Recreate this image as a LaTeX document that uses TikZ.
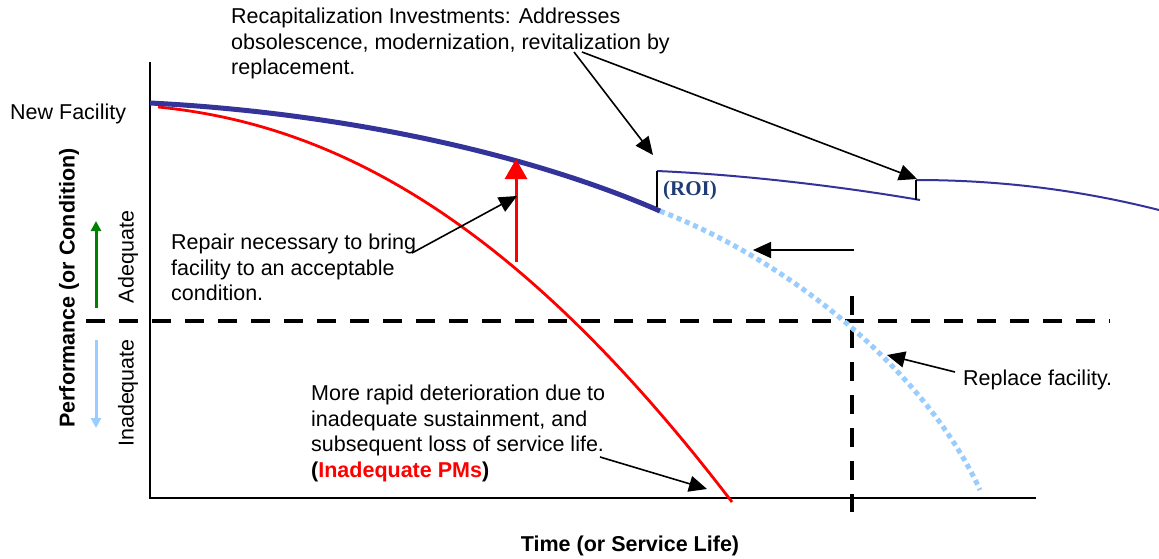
\documentclass[tikz,border=0pt]{standalone}
\usepackage{fontspec}
\setmainfont{Liberation Sans}
\newfontfamily\roifont{Liberation Serif}
\usetikzlibrary{arrows.meta}
\definecolor{dblue}{HTML}{333399}
\definecolor{lblue}{HTML}{99CCFF}
\definecolor{roiblue}{HTML}{1F3C74}
\definecolor{dgreen}{HTML}{008000}
\tikzset{
  txt/.style={inner sep=0pt, anchor=north west, align=left, font=\fontsize{21.5}{25.5}\selectfont},
  axis/.style={line width=2pt, black},
  thresh/.style={line width=3.5pt, black, dash pattern=on 19pt off 14pt},
  ptr/.style={line width=1.6pt, black, -{Triangle[length=18pt,width=16pt]}},
  tick/.style={line width=1.5pt, black},
}
\begin{document}
\begin{tikzpicture}[x=1pt,y=-1pt]
\useasboundingbox (0,0) rectangle (1159,558);
% axes
\coordinate (ytop) at (150,62);
\coordinate (origin) at (150,498);
\coordinate (xend) at (1036,498);
\draw[axis] (ytop) -- (origin) -- (xend);
% thresholds
\coordinate (hl) at (86,321);
\coordinate (hr) at (1110,321);
\draw[thresh] (hl) -- (hr);
\coordinate (vt) at (852,296);
\coordinate (vb) at (852,512);
\draw[thresh] (vt) -- (vb);
% curves
\coordinate (b0) at (150,103);
\coordinate (b1) at (660,211);
\coordinate (d1) at (980,490);
\draw[lblue, line width=5pt, dash pattern=on 5pt off 4pt] (b1) .. controls (800,265) and (930,380) .. (d1);
\coordinate (r0) at (158,107);
\coordinate (r1) at (732,502);
\draw[red, line width=2.8pt] (r0) .. controls (340,125) and (520,225) .. (r1);
\draw[dblue, line width=5pt] (b0) .. controls (330,112) and (520,150) .. (b1);
% repair arrow
\coordinate (ra) at (516,262);
\coordinate (rb) at (516,159);
\draw[red, line width=3pt, -{Triangle[length=20pt,width=22pt]}] (ra) -- (rb);
% replacement lines
\coordinate (n0) at (657,171);
\coordinate (n1) at (920,200);
\coordinate (m0) at (916,180);
\coordinate (m1) at (1159,210);
\coordinate (t0) at (657,207);
\coordinate (t1) at (916,200);
\draw[dblue, line width=2pt] (n0) .. controls (750,175) and (850,188) .. (n1);
\draw[dblue, line width=2pt] (m0) .. controls (1000,180) and (1080,190) .. (m1);
\draw[tick] (n0) -- (t0);
\draw[tick] (m0) -- (t1);
\node[inner sep=0pt, text=roiblue, font=\roifont\bfseries\fontsize{21}{24}\selectfont] (roi) at (690,190) {(ROI)};
% texts
\node[txt] (recap) at (231,8) {Recapitalization Investments: Addresses\\obsolescence, modernization, revitalization by\\replacement.};
\node[txt] (newf) at (10,104) {New Facility};
\node[txt] (repair) at (171,234) {Repair necessary to bring\\facility to an acceptable\\condition.};
\node[txt] (more) at (311,385) {More rapid deterioration due to\\inadequate sustainment, and\\subsequent loss of service life.\\\textbf{(\textcolor{red}{Inadequate PMs})}};
\node[txt] (replace) at (963,370) {Replace facility.};
\node[inner sep=0pt, font=\bfseries\fontsize{21.5}{25.5}\selectfont] (time) at (630,546) {Time (or Service Life)};
\node[inner sep=0pt, rotate=90, font=\bfseries\fontsize{21.5}{25.5}\selectfont] (perf) at (69,288) {Performance (or Condition)};
\node[inner sep=0pt, rotate=90, font=\fontsize{21.5}{25.5}\selectfont] (adeq) at (128,257) {Adequate};
\node[inner sep=0pt, rotate=90, font=\fontsize{21.5}{25.5}\selectfont] (inadeq) at (128,393) {Inadequate};
% up/down arrows
\coordinate (ga) at (96,308);
\coordinate (gb) at (96,221);
\draw[dgreen, line width=3pt, -{Triangle[length=10pt,width=10pt]}] (ga) -- (gb);
\coordinate (la) at (96,340);
\coordinate (lb) at (96,428);
\draw[lblue, line width=3pt, -{Triangle[length=10pt,width=10pt]}] (la) -- (lb);
% pointers
\coordinate (p1) at (574,52);
\coordinate (p1t) at (653,155);
\coordinate (p2) at (582,52);
\coordinate (p2t) at (917,179);
\draw[ptr] (p1) -- (p1t);
\draw[ptr] (p2) -- (p2t);
\coordinate (q0) at (854,250);
\coordinate (q1) at (753,250);
\draw[ptr] (q0) -- (q1);
\coordinate (s0) at (412,253);
\coordinate (s1) at (517,196);
\draw[ptr] (s0) -- (s1);
\coordinate (u0) at (955,372);
\coordinate (u1) at (887,355);
\draw[ptr] (u0) -- (u1);
\coordinate (w0) at (600,457);
\coordinate (w1) at (707,489);
\draw[ptr] (w0) -- (w1);
\end{tikzpicture}
\end{document}
